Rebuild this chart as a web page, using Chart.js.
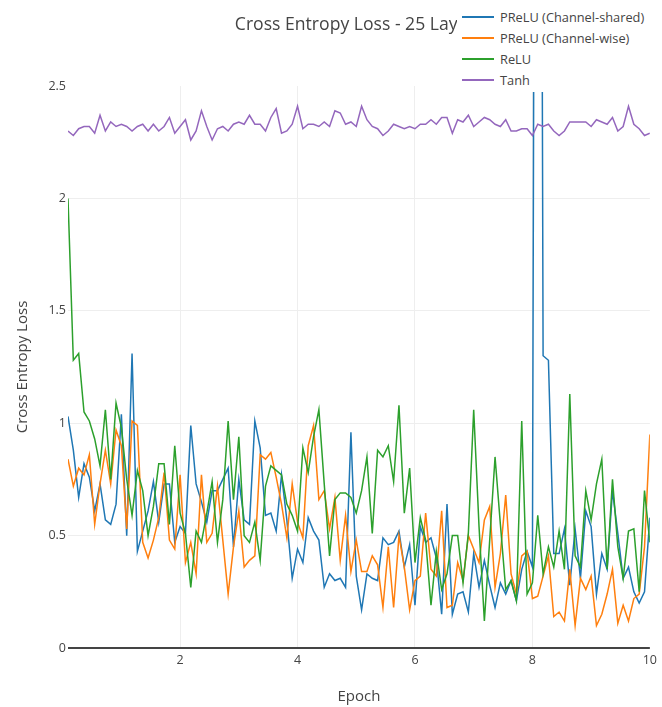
<!DOCTYPE html>
<html>
<head>
<meta charset="utf-8">
<script src="https://cdn.jsdelivr.net/npm/chart.js@4/dist/chart.umd.min.js"></script>
<style>
  html, body { margin: 0; padding: 0; background: #fff; }
  #wrap { position: relative; width: 662px; height: 707px; }
  #legend {
    position: absolute; left: 457px; top: 4px; width: 205px; height: 88px;
    background: #fff; font-family: 'Open Sans', sans-serif; font-size: 12.8px; color: #444;
  }
  .item { position: absolute; left: 0; height: 21px; display: flex; align-items: center; white-space: nowrap; }
  .swatch { width: 32px; height: 2px; margin-left: 5px; margin-right: 6px; }
</style>
</head>
<body>
<div id="wrap">
  <canvas id="c" width="662" height="707"></canvas>
  <div id="legend"></div>
</div>
<script>
// Loss logged 11 times per epoch over 10 epochs
const STEPS_PER_EPOCH = 11;
const xTicks = [2, 4, 6, 8, 10];
const yTicks = [0, 0.5, 1, 1.5, 2, 2.5];

const seriesNames = ['PReLU (Channel-shared)', 'PReLU (Channel-wise)', 'ReLU', 'Tanh'];
const seriesColors = ['#1f77b4', '#ff7f0e', '#2ca02c', '#9467bd'];

const preluShared = [
  1.03,0.88,0.67,0.82,0.76,0.61,0.73,0.57,0.55,0.64,
  1.04,0.50,1.31,0.43,0.52,0.61,0.74,0.56,0.73,0.73,
  0.47,0.54,0.51,0.99,0.73,0.65,0.56,0.70,0.70,0.75,
  0.80,0.45,0.75,0.57,0.55,1.01,0.89,0.59,0.60,0.52,
  0.77,0.57,0.31,0.44,0.38,0.58,0.52,0.48,0.27,0.33,
  0.30,0.31,0.27,0.96,0.32,0.17,0.33,0.31,0.30,0.49,
  0.46,0.47,0.52,0.36,0.46,0.19,0.54,0.47,0.49,0.40,
  0.15,0.64,0.15,0.24,0.25,0.16,0.42,0.27,0.39,0.28,
  0.18,0.29,0.24,0.30,0.21,0.35,0.43,0.36,9.50,1.30,
  1.28,0.42,0.42,0.53,0.28,0.53,0.31,0.61,0.54,0.24,
  0.42,0.35,0.70,0.51,0.31,0.36,0.25,0.20,0.25,0.58
];
const preluWise = [
  0.84,0.72,0.80,0.77,0.86,0.55,0.73,0.88,0.73,0.97,
  0.90,0.53,1.01,0.99,0.47,0.40,0.48,0.58,0.78,0.48,
  0.44,0.77,0.38,0.47,0.33,0.77,0.47,0.51,0.72,0.48,
  0.24,0.45,0.61,0.36,0.39,0.41,0.86,0.84,0.87,0.76,
  0.64,0.49,0.73,0.56,0.49,0.90,0.99,0.66,0.70,0.53,
  0.67,0.39,0.59,0.34,0.48,0.34,0.34,0.41,0.37,0.18,
  0.45,0.18,0.50,0.36,0.17,0.30,0.32,0.60,0.35,0.32,
  0.61,0.18,0.19,0.38,0.30,0.50,0.44,0.38,0.57,0.63,
  0.27,0.42,0.68,0.33,0.24,0.41,0.43,0.22,0.23,0.32,
  0.41,0.14,0.16,0.12,0.35,0.10,0.31,0.26,0.32,0.10,
  0.15,0.24,0.35,0.11,0.19,0.12,0.22,0.24,0.45,0.95
];
const relu = [
  2.00,1.28,1.31,1.05,1.01,0.93,0.81,1.06,0.75,1.09,
  0.98,0.75,0.59,0.79,0.70,0.50,0.63,0.82,0.82,0.55,
  0.90,0.60,0.51,0.27,0.52,0.47,0.60,0.74,0.47,0.66,
  1.01,0.66,0.94,0.50,0.47,0.56,0.39,0.72,0.81,0.79,
  0.77,0.64,0.59,0.52,0.89,0.78,0.94,1.06,0.73,0.41,
  0.66,0.69,0.69,0.67,0.60,0.70,0.85,0.51,0.88,0.85,
  0.90,0.74,1.08,0.60,0.80,0.38,0.58,0.48,0.19,0.43,
  0.26,0.33,0.50,0.50,0.29,0.51,1.06,0.54,0.12,0.48,
  0.85,0.55,0.26,0.30,0.21,1.01,0.24,0.29,0.59,0.33,
  0.45,0.36,0.52,0.35,1.13,0.41,0.36,0.70,0.57,0.73,
  0.84,0.35,0.75,0.45,0.31,0.52,0.53,0.25,0.70,0.47
];
const tanh = [
  2.30,2.28,2.31,2.32,2.32,2.29,2.37,2.30,2.34,2.32,
  2.33,2.32,2.30,2.32,2.33,2.30,2.33,2.30,2.32,2.36,
  2.29,2.32,2.35,2.26,2.30,2.39,2.32,2.26,2.31,2.32,
  2.30,2.33,2.34,2.33,2.37,2.33,2.33,2.30,2.36,2.40,
  2.29,2.30,2.33,2.41,2.31,2.33,2.33,2.32,2.34,2.32,
  2.39,2.38,2.33,2.34,2.32,2.41,2.35,2.32,2.31,2.28,
  2.30,2.33,2.32,2.31,2.32,2.31,2.33,2.33,2.35,2.33,
  2.36,2.36,2.29,2.35,2.34,2.37,2.32,2.34,2.36,2.35,
  2.33,2.32,2.35,2.30,2.30,2.31,2.31,2.28,2.33,2.32,
  2.33,2.30,2.28,2.30,2.34,2.34,2.34,2.34,2.32,2.35,
  2.34,2.33,2.36,2.30,2.32,2.41,2.33,2.31,2.28,2.29
];

const epochs = preluShared.map((_, i) => (i + 1) / STEPS_PER_EPOCH);
const seriesValues = [preluShared, preluWise, relu, tanh];

Chart.defaults.font.family = "'Open Sans', sans-serif";
Chart.defaults.color = '#444';

const datasets = seriesValues.map((vals, k) => ({
  label: seriesNames[k],
  data: vals.map((v, i) => ({ x: epochs[i], y: v })),
  borderColor: seriesColors[k],
  backgroundColor: seriesColors[k],
  borderWidth: 1.5,
  pointRadius: 0,
  tension: 0,
  fill: false,
  order: seriesValues.length - k
}));

const chart = new Chart(document.getElementById('c'), {
  type: 'line',
  data: { datasets },
  options: {
    responsive: false,
    animation: false,
    layout: { padding: { left: 0, right: 10, top: 0, bottom: 0 } },
    plugins: {
      legend: { display: false },
      tooltip: { enabled: false },
      title: {
        display: true,
        text: 'Cross Entropy Loss - 25 Layers',
        fullSize: false,
        color: '#444',
        font: { size: 17.6, weight: 'normal' },
        padding: { top: 14.5, bottom: 50.4 }
      }
    },
    scales: {
      x: {
        type: 'linear',
        min: epochs[0],
        max: 10,
        afterBuildTicks: s => { s.ticks = xTicks.map(v => ({ value: v })); },
        afterFit: s => { s.height = 59; },
        border: { display: false },
        grid: {
          drawTicks: false,
          color: c => (c.tick && c.tick.value === 10) ? 'rgba(0,0,0,0)' : '#eee',
          lineWidth: 1
        },
        ticks: { padding: 5, font: { size: 12.5 }, color: '#444', maxRotation: 0,
                 callback: v => String(v) },
        title: {
          display: true, text: 'Epoch', color: '#444',
          font: { size: 15 }, padding: { top: 0, bottom: 1 }
        }
      },
      y: {
        min: 0,
        max: 2.5,
        afterBuildTicks: s => { s.ticks = yTicks.map(v => ({ value: v })); },
        afterFit: s => { s.width = 68; },
        border: { display: false },
        grid: {
          drawTicks: false,
          color: c => {
            const v = c.tick ? c.tick.value : null;
            if (v === 0) return '#444';
            if (v === 2.5) return 'rgba(0,0,0,0)';
            return '#eee';
          },
          lineWidth: c => (c.tick && c.tick.value === 0) ? 2 : 1
        },
        ticks: { padding: 2, font: { size: 12.5 }, color: '#444',
                 callback: v => String(v) },
        title: {
          display: true, text: 'Cross Entropy Loss', color: '#444',
          font: { size: 15 }, padding: { top: 14, bottom: 0 }
        }
      }
    }
  }
});

// Legend built from the chart's datasets
const legendEl = document.getElementById('legend');
chart.data.datasets.forEach((ds, k) => {
  const row = document.createElement('div');
  row.className = 'item';
  row.style.top = (2 + k * 21) + 'px';
  const sw = document.createElement('span');
  sw.className = 'swatch';
  sw.style.background = ds.borderColor;
  const label = document.createElement('span');
  label.textContent = ds.label;
  row.appendChild(sw);
  row.appendChild(label);
  legendEl.appendChild(row);
});
</script>
</body>
</html>
